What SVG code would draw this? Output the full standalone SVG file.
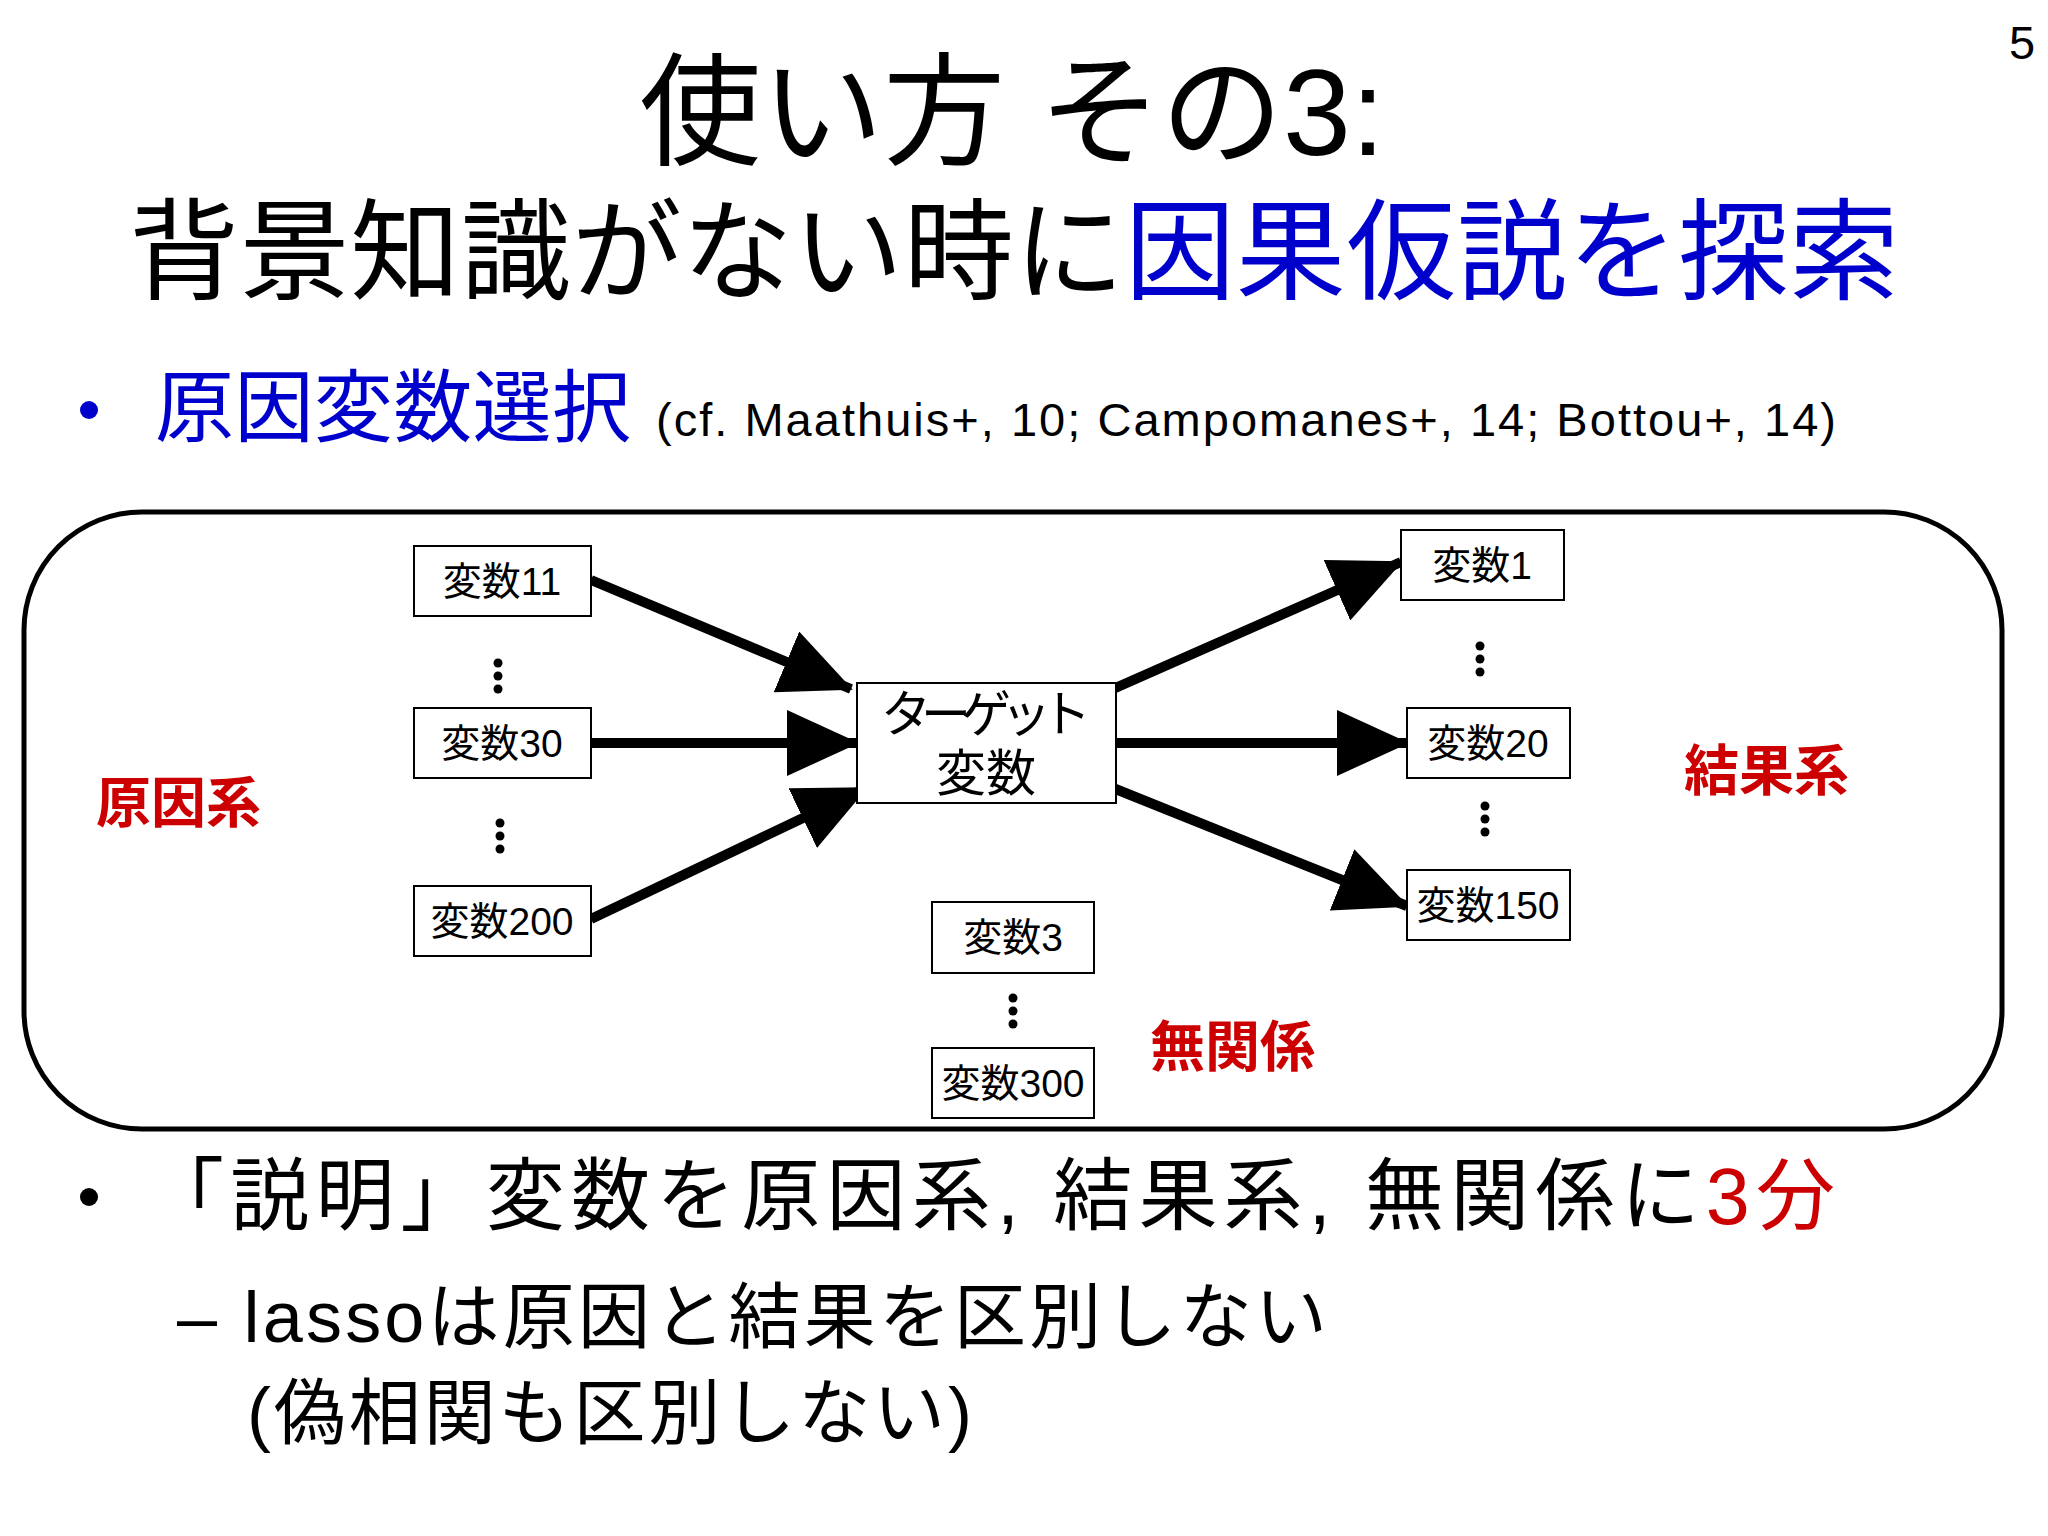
<svg xmlns="http://www.w3.org/2000/svg" width="2048" height="1536" viewBox="0 0 2048 1536">
<defs>
<marker id="ah" markerUnits="userSpaceOnUse" markerWidth="72" markerHeight="66" refX="70" refY="33" orient="auto"><path d="M0,0 L72,33 L0,66 z" fill="#000"/></marker>
<style>
text{font-family:"Liberation Sans","Noto Sans CJK JP",sans-serif;}
.box{fill:#fff;stroke:#000;stroke-width:2}
.bl{font-size:39px;text-anchor:middle}
.red{fill:#cc0000;font-weight:bold;font-size:55px}
.blue{fill:#0000cc}
.arr{stroke:#000;stroke-width:10;fill:none;marker-end:url(#ah)}
</style>
</defs>
<rect width="2048" height="1536" fill="#fff"/>
<text x="2022" y="59" font-size="47" text-anchor="middle">5</text>
<text x="1012" y="155" font-size="122" text-anchor="middle">使い方 その3:</text>
<text x="129" y="291" font-size="110" textLength="1770">背景知識がない時に<tspan class="blue">因果仮説を探索</tspan></text>
<circle cx="89" cy="410" r="9" fill="#0000cc"/>
<text x="155" y="436" font-size="79" class="blue" textLength="476">原因変数選択</text>
<text x="656" y="436" font-size="47" textLength="1180">(cf. Maathuis+, 10; Campomanes+, 14; Bottou+, 14)</text>
<rect x="24" y="512" width="1978" height="617" rx="118" fill="none" stroke="#000" stroke-width="5"/>
<g id="connectors">
<line class="arr" x1="591" y1="580" x2="851" y2="689"/>
<line class="arr" x1="591" y1="743" x2="857" y2="743"/>
<line class="arr" x1="591" y1="919" x2="866" y2="788"/>
<line class="arr" x1="1113" y1="689" x2="1401" y2="562"/>
<line class="arr" x1="1116" y1="743" x2="1407" y2="743"/>
<line class="arr" x1="1113" y1="788" x2="1407" y2="906"/>
</g>
<g id="n11"><rect class="box" x="414" y="546" width="177" height="70"/><text class="bl" x="502" y="595">変数11</text></g>
<g id="n30"><rect class="box" x="414" y="708" width="177" height="70"/><text class="bl" x="502" y="757">変数30</text></g>
<g id="n200"><rect class="box" x="414" y="886" width="177" height="70"/><text class="bl" x="502" y="935">変数200</text></g>
<g id="target"><rect class="box" x="857" y="683" width="259" height="120"/><text x="986" y="732" font-size="50" text-anchor="middle" textLength="210">ターゲット</text><text x="986" y="791" font-size="50" text-anchor="middle">変数</text></g>
<g id="n1"><rect class="box" x="1401" y="530" width="163" height="70"/><text class="bl" x="1482" y="579">変数1</text></g>
<g id="n20"><rect class="box" x="1407" y="708" width="163" height="70"/><text class="bl" x="1488" y="757">変数20</text></g>
<g id="n150"><rect class="box" x="1407" y="870" width="163" height="70"/><text class="bl" x="1488" y="919">変数150</text></g>
<g id="n3"><rect class="box" x="932" y="902" width="162" height="71"/><text class="bl" x="1013" y="951">変数3</text></g>
<g id="n300"><rect class="box" x="932" y="1048" width="162" height="70"/><text class="bl" x="1013" y="1097">変数300</text></g>
<g id="dots" fill="#000">
<circle cx="498" cy="663" r="4.5"/><circle cx="498" cy="676" r="4.5"/><circle cx="498" cy="689" r="4.5"/>
<circle cx="500" cy="823" r="4.5"/><circle cx="500" cy="836" r="4.5"/><circle cx="500" cy="849" r="4.5"/>
<circle cx="1480" cy="646" r="4.5"/><circle cx="1480" cy="659" r="4.5"/><circle cx="1480" cy="672" r="4.5"/>
<circle cx="1485" cy="806" r="4.5"/><circle cx="1485" cy="819" r="4.5"/><circle cx="1485" cy="832" r="4.5"/>
<circle cx="1013" cy="998" r="4.5"/><circle cx="1013" cy="1011" r="4.5"/><circle cx="1013" cy="1024" r="4.5"/>
</g>
<text class="red" x="96" y="822">原因系</text>
<text class="red" x="1684" y="790">結果系</text>
<text class="red" x="1150" y="1066">無関係</text>
<circle cx="89" cy="1197" r="9" fill="#000"/>
<text x="145" y="1224" font-size="79" textLength="1690">「説明」変数を原因系, 結果系, 無関係に<tspan fill="#cc0000">3分</tspan></text>
<text x="177" y="1342" font-size="72" textLength="1150">– lassoは原因と結果を区別しない</text>
<text x="247" y="1438" font-size="72" textLength="725">(偽相関も区別しない)</text>
</svg>
